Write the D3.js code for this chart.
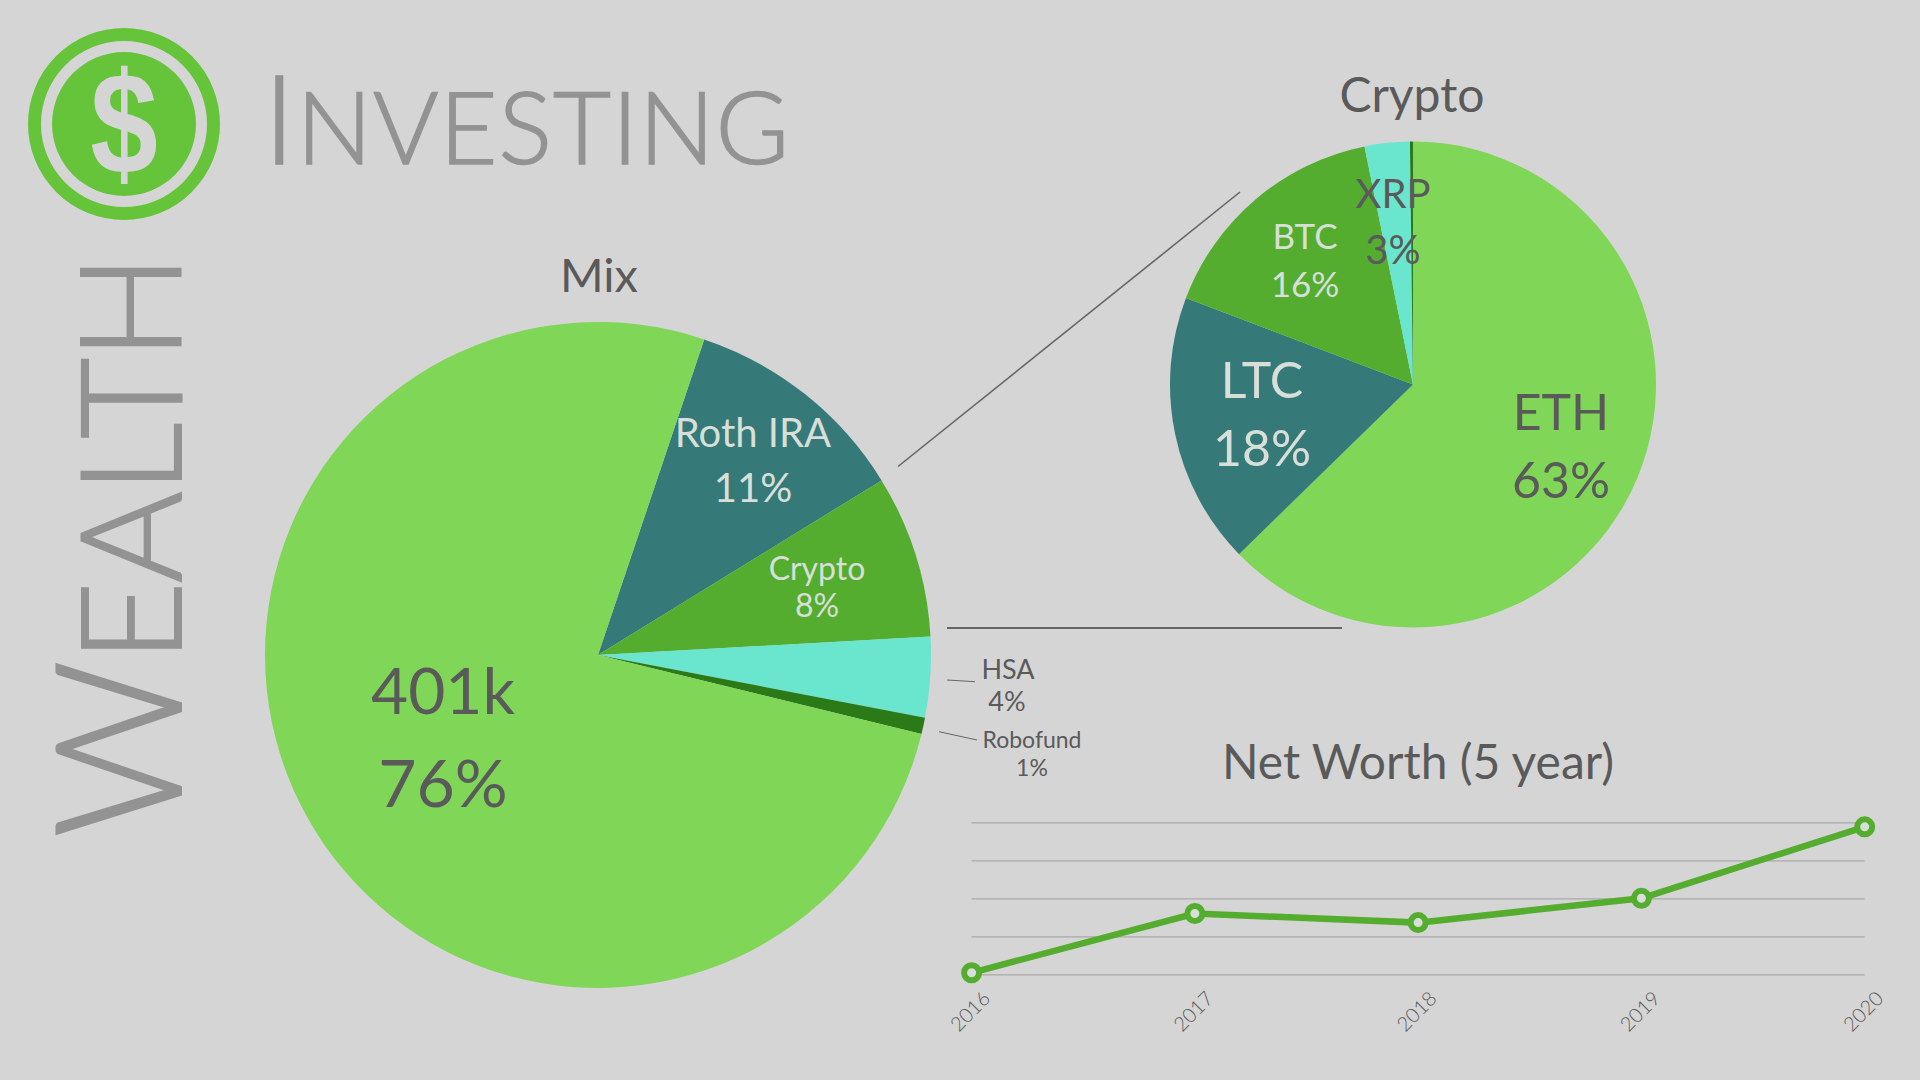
<!DOCTYPE html>
<html>
<head>
<meta charset="utf-8">
<script src="https://cdn.jsdelivr.net/npm/d3@7"></script>
<style>
  html, body { margin: 0; padding: 0; background: #d6d5d6; overflow: hidden; }
  svg { display: block; font-family: Lato, "Open Sans", sans-serif; }
</style>
</head>
<body>
<script>
// mix pie
const mixNames = ["Roth IRA", "Crypto", "HSA", "Robofund", "401k"];
const mixValues = [11.05, 7.9, 3.9, 0.8, 76.35];
const mixColors = ["#357a78", "#54ad2f", "#6ae6cf", "#2a7a18", "#7fd657"];

// crypto pie, the last sliver has no label in the picture
const cryptoNames = ["ETH", "LTC", "BTC", "XRP", "Other"];
const cryptoValues = [62.7, 18.1, 16.0, 3.0, 0.2];
const cryptoColors = ["#7fd657", "#357a78", "#54ad2f", "#6ae6cf", "#2a7a18"];

// net worth line, no y labels in the picture so values are on a 0-100 scale
const years = ["2016", "2017", "2018", "2019", "2020"];
const netWorth = [1, 40, 34, 50, 97];
const yTicks = [0, 25, 50, 75, 100];

const dark = "#5a5a5a", pale = "#d8dfd8", grey = "#939393", logoGreen = "#66c43a", bg = "#d6d5d6";

const svg = d3.select("body").append("svg").attr("width", 1920).attr("height", 1080);

function drawPie(cx, cy, r, values, colors, names, start) {
  const pie = d3.pie().sort(null).startAngle(start).endAngle(start + 2 * Math.PI);
  const arc = d3.arc().innerRadius(0).outerRadius(r);
  svg.append("g").attr("transform", `translate(${cx},${cy})`)
    .selectAll("path")
    .data(pie(values))
    .enter()
    .append("path")
    .attr("d", arc)
    .attr("fill", (d, i) => colors[i])
    .attr("data-name", (d, i) => names[i]);
}

function label(x, y, str, size, color, weight) {
  svg.append("text")
    .attr("x", x).attr("y", y - 2)
    .attr("text-anchor", "middle")
    .attr("dominant-baseline", "central")
    .attr("font-size", size)
    .attr("font-weight", weight || 400)
    .attr("fill", color)
    .text(str);
}

function leader(x1, y1, x2, y2, w) {
  svg.append("line")
    .attr("x1", x1).attr("y1", y1).attr("x2", x2).attr("y2", y2)
    .attr("stroke", "#666").attr("stroke-width", w);
}

/* logo */
const logo = svg.append("g").attr("transform", "translate(124,124)");
logo.append("circle").attr("r", 89.5).attr("fill", "none").attr("stroke", logoGreen).attr("stroke-width", 13);
logo.append("circle").attr("r", 72).attr("fill", logoGreen);
logo.append("text")
  .attr("text-anchor", "middle")
  .attr("transform", "translate(0,49) scale(0.92,1.09)")
  .attr("font-family", "'Liberation Sans', sans-serif")
  .attr("font-weight", 700).attr("font-size", 132)
  .attr("fill", bg).text("$");

/* headings, light weight with a thin stroke to get the thickness of the original */
const title = svg.append("text").attr("x", 263).attr("y", 164)
  .attr("fill", grey).attr("stroke", grey).attr("stroke-width", 1.6)
  .attr("font-weight", 300)
  .attr("textLength", 526).attr("lengthAdjust", "spacing");
title.append("tspan").attr("font-size", 125).text("I");
title.append("tspan").attr("font-size", 100).text("NVESTING");

const side = svg.append("text").attr("transform", "translate(181,838) rotate(-90)")
  .attr("fill", grey).attr("stroke", grey).attr("stroke-width", 2)
  .attr("font-weight", 300)
  .attr("textLength", 584).attr("lengthAdjust", "spacing");
side.append("tspan").attr("font-size", 175).text("W");
side.append("tspan").attr("font-size", 140).text("EALTH");

/* pies */
drawPie(598, 655, 333, mixValues, mixColors, mixNames, 18.6 * Math.PI / 180);
drawPie(1413, 384.5, 243, cryptoValues, cryptoColors, cryptoNames, 0);

leader(898, 466.5, 1240, 192, 1.6);
leader(947, 628, 1342, 628, 1.8);
leader(947, 680, 975, 681.7, 1);
leader(939, 731.7, 977, 740, 1);

label(599, 276, "Mix", 47, dark);
label(443, 691, mixNames[4], 64, dark);
label(443, 783, "76%", 66, dark);
label(753, 434, mixNames[0], 40, pale);
label(753, 489, "11%", 40, pale);
label(817, 569, mixNames[1], 32, pale);
label(817, 606, "8%", 32, pale);
label(1008, 670, mixNames[2], 27, dark);
label(1007, 702, "4%", 27, dark);
label(1032, 741, mixNames[3], 23, dark);
label(1032, 769, "1%", 23, dark);

label(1412, 95, "Crypto", 48, dark);
label(1561, 413, cryptoNames[0], 50, dark);
label(1561, 481, "63%", 50, dark);
label(1262, 381, cryptoNames[1], 50, pale);
label(1262, 449, "18%", 50, pale);
label(1305, 237, cryptoNames[2], 35, pale);
label(1305, 285, "16%", 35, pale);
label(1393, 195, cryptoNames[3], 40, dark);
label(1393, 251, "3%", 40, dark);

/* net worth line */
label(1418, 762, "Net Worth (5 year)", 48, dark);

const x = d3.scalePoint().domain(years).range([971.6, 1864.7]);
const y = d3.scaleLinear().domain([0, 100]).range([974.3, 822.3]);

const grid = svg.append("g").attr("transform", "translate(971.6,0)")
  .call(d3.axisLeft(y).tickValues(yTicks).tickSize(-893.1).tickFormat(""));
grid.select(".domain").remove();
grid.selectAll("line").attr("stroke", "#aaa9aa").attr("stroke-width", 1.2);

const xAxis = svg.append("g").attr("transform", "translate(0,974.3)")
  .call(d3.axisBottom(x).tickSize(0).tickPadding(0));
xAxis.select(".domain").remove();
xAxis.selectAll("text")
  .attr("font-family", "Lato, sans-serif")
  .attr("font-size", 20)
  .attr("font-weight", 300)
  .attr("fill", dark)
  .attr("text-anchor", "middle")
  .attr("dy", 0)
  .attr("y", 0)
  .attr("transform", "translate(3,42) rotate(-45)");

const line = d3.line().x((d, i) => x(years[i])).y(d => y(d));
svg.append("path").datum(netWorth)
  .attr("d", line).attr("fill", "none")
  .attr("stroke", "#54ad2f").attr("stroke-width", 6.5);
svg.selectAll("circle.pt")
  .data(netWorth)
  .enter()
  .append("circle")
  .attr("class", "pt")
  .attr("cx", (d, i) => x(years[i]))
  .attr("cy", d => y(d))
  .attr("r", 7.5)
  .attr("fill", pale)
  .attr("stroke", "#54ad2f")
  .attr("stroke-width", 6);
</script>
</body>
</html>
